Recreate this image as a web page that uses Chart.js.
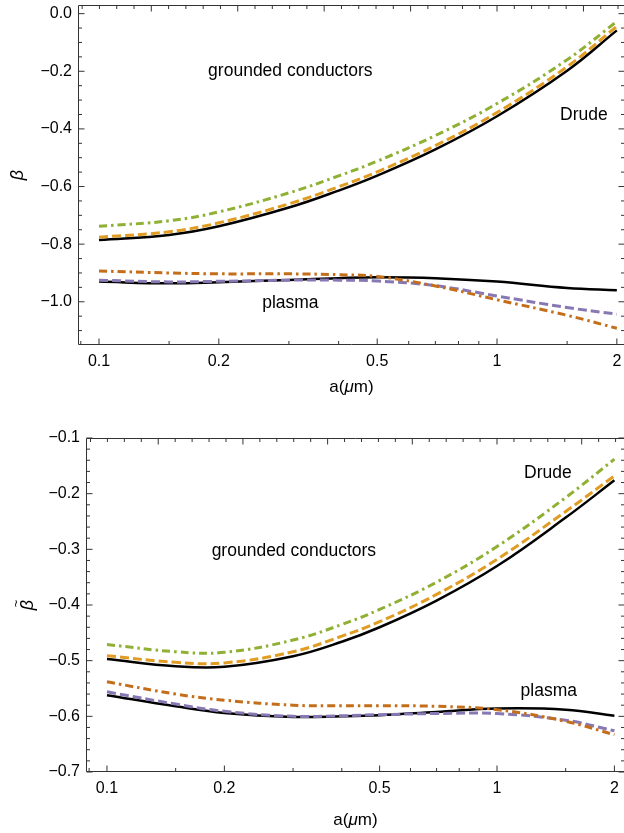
<!DOCTYPE html>
<html>
<head>
<meta charset="utf-8">
<script src="https://cdn.jsdelivr.net/npm/chart.js@4.4.1/dist/chart.umd.min.js"></script>
<style>
  html, body { margin: 0; padding: 0; background: #fff; width: 624px; height: 833px; overflow: hidden; }
  #wrap { position: relative; width: 624px; height: 833px; overflow: hidden; }
  .panel { position: absolute; left: 0; }
  canvas { display: block; }
</style>
</head>
<body>
<div id="wrap">
  <div class="panel" style="top:0px"><canvas id="c1" width="630" height="410" style="width:630px;height:410px"></canvas></div>
  <div class="panel" style="top:410px"><canvas id="c2" width="630" height="423" style="width:630px;height:423px"></canvas></div>
</div>
<script>
// ---------------- data ----------------
const aValues = [0.1, 0.15, 0.2, 0.3, 0.4, 0.5, 0.7, 1, 1.5, 2];

// top panel: beta
const betaDrudeSolid      = [-0.786, -0.768, -0.738, -0.673, -0.614, -0.562, -0.471, -0.356, -0.198, -0.058];
const betaDrudeDashed     = [-0.776, -0.757, -0.726, -0.660, -0.601, -0.549, -0.458, -0.343, -0.184, -0.044];
const betaDrudeDotDashed  = [-0.738, -0.719, -0.688, -0.622, -0.563, -0.512, -0.423, -0.312, -0.160, -0.027];
const betaPlasmaSolid     = [-0.930, -0.936, -0.932, -0.924, -0.918, -0.915, -0.918, -0.930, -0.952, -0.960];
const betaPlasmaDashed    = [-0.925, -0.931, -0.929, -0.925, -0.925, -0.928, -0.944, -0.980, -1.020, -1.043];
const betaPlasmaDotDashed = [-0.893, -0.900, -0.903, -0.903, -0.906, -0.912, -0.945, -0.993, -1.047, -1.092];

// bottom panel: beta tilde
const btDrudeSolid      = [-0.497, -0.510, -0.511, -0.492, -0.466, -0.440, -0.392, -0.330, -0.243, -0.176];
const btDrudeDashed     = [-0.491, -0.503, -0.504, -0.484, -0.456, -0.430, -0.381, -0.318, -0.232, -0.168];
const btDrudeDotDashed  = [-0.471, -0.484, -0.485, -0.463, -0.435, -0.408, -0.359, -0.295, -0.207, -0.138];
const btPlasmaSolid     = [-0.562, -0.582, -0.594, -0.601, -0.600, -0.598, -0.592, -0.586, -0.588, -0.599];
const btPlasmaDashed    = [-0.556, -0.578, -0.591, -0.600, -0.599, -0.597, -0.595, -0.595, -0.607, -0.626];
const btPlasmaDotDashed = [-0.538, -0.560, -0.571, -0.580, -0.581, -0.581, -0.582, -0.588, -0.609, -0.633];

// ticks
const xMajorTicks  = [0.1, 0.2, 0.5, 1, 2];
const xTickLabels  = ['0.1', '0.2', '0.5', '1', '2'];
const xMinorTicks  = [0.09, 0.15, 0.3, 0.4, 0.6, 0.7, 0.8, 0.9, 1.5];
// top frame ticks (linear in ln a)
const topLnMajor   = [-2, -1.5, -1, -0.5, 0, 0.5];
const topLnMinor   = [-2.4, -2.3, -2.2, -2.1, -1.9, -1.8, -1.7, -1.6, -1.4, -1.3, -1.2, -1.1, -0.9, -0.8, -0.7, -0.6,
                      -0.4, -0.3, -0.2, -0.1, 0.1, 0.2, 0.3, 0.4, 0.6, 0.7];

const yTopMajorTicks = [-1.0, -0.8, -0.6, -0.4, -0.2, 0.0];
const yTopTickLabels = ['\u22121.0', '\u22120.8', '\u22120.6', '\u22120.4', '\u22120.2', '0.0'];
const yTopMinorTicks = [-1.1, -1.05, -0.95, -0.9, -0.85, -0.75, -0.7, -0.65, -0.55, -0.5, -0.45,
                        -0.35, -0.3, -0.25, -0.15, -0.1, -0.05];

const yBotMajorTicks = [-0.7, -0.6, -0.5, -0.4, -0.3, -0.2, -0.1];
const yBotTickLabels = ['\u22120.7', '\u22120.6', '\u22120.5', '\u22120.4', '\u22120.3', '\u22120.2', '\u22120.1'];
const yBotMinorTicks = [-0.68, -0.66, -0.64, -0.62, -0.58, -0.56, -0.54, -0.52, -0.48, -0.46, -0.44, -0.42,
                        -0.38, -0.36, -0.34, -0.32, -0.28, -0.26, -0.24, -0.22, -0.18, -0.16, -0.14, -0.12];

// annotations (anchor = left, baseline; in data coordinates)
const topNotes = [
  { text: 'grounded conductors', a: 0.188, v: -0.218 },
  { text: 'Drude',               a: 1.44,  v: -0.368 },
  { text: 'plasma',              a: 0.257, v: -1.022 }
];
const botNotes = [
  { text: 'grounded conductors', a: 0.1855, v: -0.312 },
  { text: 'Drude',               a: 1.173,  v: -0.172 },
  { text: 'plasma',              a: 1.149,  v: -0.563 }
];

// ---------------- styling ----------------
const FONT = '"Liberation Sans", Arial, Helvetica, sans-serif';
const C_BLACK  = '#000000';
const C_ORANGE = '#E19C24';
const C_GREEN  = '#8FB032';
const C_PURPLE = '#8778B3';
const C_DORANGE = '#C56E1A';
const DASHED = [9, 4];
const DOTDASH = [8, 4, 2.5, 4];

function series(values, color, dash, width) {
  return {
    data: aValues.map((a, i) => ({ x: a, y: values[i] })),
    borderColor: color,
    borderDash: dash,
    borderWidth: width,
    pointRadius: 0,
    fill: false,
    tension: 0.4
  };
}

const framePlugin = {
  id: 'frame',
  afterDraw(chart, args, spec) {
    const { ctx, chartArea: ca, scales: { x, y } } = chart;
    const L = ca.left + 0.5, R = ca.right - 0.5, T = ca.top + 0.5, B = ca.bottom - 0.5;
    ctx.save();
    ctx.strokeStyle = '#333';
    ctx.lineWidth = 1;
    ctx.beginPath();
    ctx.moveTo(L, T); ctx.lineTo(R, T); ctx.lineTo(R, B); ctx.lineTo(L, B); ctx.closePath();
    const seg = (x1, y1, x2, y2) => { ctx.moveTo(x1, y1); ctx.lineTo(x2, y2); };
    const MAJ = 6, MIN = 3.5;
    xMajorTicks.forEach(v => { const p = x.getPixelForValue(v); seg(p, B, p, B - MAJ); });
    xMinorTicks.forEach(v => { const p = x.getPixelForValue(v); seg(p, B, p, B - MIN); });
    topLnMajor.forEach(l => { const p = x.getPixelForValue(Math.exp(l)); if (p > L && p < R) seg(p, T, p, T + MAJ); });
    topLnMinor.forEach(l => { const p = x.getPixelForValue(Math.exp(l)); if (p > L && p < R) seg(p, T, p, T + MIN); });
    spec.yMajor.forEach(v => { const p = y.getPixelForValue(v); seg(L, p, L + MAJ, p); seg(R, p, R - MAJ, p); });
    spec.yMinor.forEach(v => { const p = y.getPixelForValue(v); seg(L, p, L + MIN, p); seg(R, p, R - MIN, p); });
    ctx.stroke();

    // annotations
    ctx.fillStyle = '#000';
    ctx.font = '17.5px ' + FONT;
    ctx.textAlign = 'left';
    ctx.textBaseline = 'alphabetic';
    spec.notes.forEach(n => ctx.fillText(n.text, x.getPixelForValue(n.a), y.getPixelForValue(n.v)));

    // y title
    ctx.save();
    ctx.translate(ca.left - spec.yTitleOffset, (ca.top + ca.bottom) / 2);
    ctx.rotate(-Math.PI / 2);
    ctx.textAlign = 'center';
    ctx.textBaseline = 'middle';
    ctx.font = 'italic 18px ' + FONT;
    ctx.fillText('\u03B2', 0, 0);
    if (spec.tilde) {
      ctx.font = '13px ' + FONT;
      ctx.fillText('~', 1.5, -11);
    }
    ctx.restore();

    // x title a(μm)
    ctx.textBaseline = 'alphabetic';
    const parts = [['a(', ''], ['\u03BC', 'italic '], ['m)', '']];
    let total = 0;
    const widths = parts.map(([t, st]) => { ctx.font = st + '17px ' + FONT; const w = ctx.measureText(t).width; total += w; return w; });
    let px = (ca.left + ca.right) / 2 - total / 2;
    const py = ca.bottom + spec.xTitleOffset;
    parts.forEach(([t, st], i) => { ctx.font = st + '17px ' + FONT; ctx.fillText(t, px, py); px += widths[i]; });
    ctx.restore();
  }
};

function makeChart(id, cfg) {
  return new Chart(document.getElementById(id), {
    type: 'line',
    data: { datasets: cfg.datasets },
    options: {
      responsive: false,
      animation: false,
      devicePixelRatio: 1,
      layout: { padding: { left: 0, right: 5, top: cfg.padTop, bottom: 0 } },
      plugins: {
        legend: { display: false },
        tooltip: { enabled: false },
        frame: cfg.frame
      },
      scales: {
        x: {
          type: 'logarithmic',
          position: 'bottom',
          min: cfg.xMin, max: cfg.xMax,
          grid: { display: false, drawTicks: false },
          border: { display: false },
          ticks: {
            autoSkip: false, maxRotation: 0, minRotation: 0, padding: 7,
            color: '#000', font: { family: FONT, size: 16 },
            callback: (v, i) => xTickLabels[i]
          },
          afterBuildTicks: s => { s.ticks = xMajorTicks.map(v => ({ value: v })); },
          afterFit: s => { s.height = cfg.xAxisHeight; s.paddingLeft = 0; s.paddingRight = 0; }
        },
        y: {
          type: 'linear',
          position: 'left',
          min: cfg.yMin, max: cfg.yMax,
          grid: { display: false, drawTicks: false },
          border: { display: false },
          ticks: {
            padding: 6, color: '#000', font: { family: FONT, size: 16 },
            callback: (v, i) => cfg.yLabels[i]
          },
          afterBuildTicks: s => { s.ticks = cfg.yMajor.map(v => ({ value: v })); },
          afterFit: s => { s.width = cfg.yAxisWidth; s.paddingTop = 0; s.paddingBottom = 0; }
        }
      }
    },
    plugins: [framePlugin]
  });
}

makeChart('c1', {
  datasets: [
    series(betaDrudeDotDashed, C_GREEN, DOTDASH, 3),
    series(betaDrudeDashed, C_ORANGE, DASHED, 3),
    series(betaPlasmaDotDashed, C_DORANGE, DOTDASH, 3),
    series(betaPlasmaDashed, C_PURPLE, DASHED, 3),
    series(betaDrudeSolid, C_BLACK, [], 2.5),
    series(betaPlasmaSolid, C_BLACK, [], 2.5)
  ],
  padTop: 5, xAxisHeight: 65, yAxisWidth: 78,
  xMin: 0.08856, xMax: 2.0966, yMin: -1.15, yMax: 0.03,
  yMajor: yTopMajorTicks, yLabels: yTopTickLabels,
  frame: { yMajor: yTopMajorTicks, yMinor: yTopMinorTicks, notes: topNotes, yTitleOffset: 60, xTitleOffset: 46.5, tilde: false }
});

makeChart('c2', {
  datasets: [
    series(btDrudeDotDashed, C_GREEN, DOTDASH, 3),
    series(btDrudeDashed, C_ORANGE, DASHED, 3),
    series(btPlasmaDotDashed, C_DORANGE, DOTDASH, 3),
    series(btPlasmaDashed, C_PURPLE, DASHED, 3),
    series(btDrudeSolid, C_BLACK, [], 2.5),
    series(btPlasmaSolid, C_BLACK, [], 2.5)
  ],
  padTop: 28, xAxisHeight: 61, yAxisWidth: 86,
  xMin: 0.08835, xMax: 2.129, yMin: -0.7, yMax: -0.1,
  yMajor: yBotMajorTicks, yLabels: yBotTickLabels,
  frame: { yMajor: yBotMajorTicks, yMinor: yBotMinorTicks, notes: botNotes, yTitleOffset: 58.5, xTitleOffset: 53, tilde: true }
});
</script>
</body>
</html>
